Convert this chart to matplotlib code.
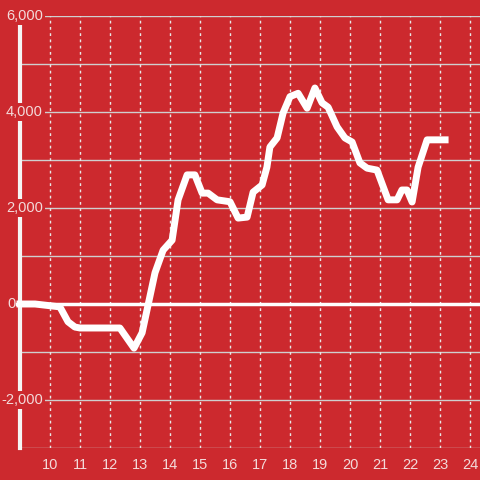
import matplotlib
matplotlib.use("Agg")
import matplotlib.pyplot as plt

# hour of day vs value
hours = [9.0, 9.5, 10.33, 10.6, 10.83, 11.0, 12.33, 12.8, 13.07, 13.5, 13.77,
         14.07, 14.27, 14.57, 14.83, 15.07, 15.27, 15.57, 16.0, 16.27, 16.57,
         16.77, 17.07, 17.23, 17.33, 17.57, 17.77, 18.0, 18.27, 18.57, 18.83,
         19.07, 19.27, 19.57, 19.83, 20.07, 20.33, 20.57, 20.9, 21.27, 21.57,
         21.73, 21.9, 22.07, 22.27, 22.57, 23.17]
values = [0, 0, -60, -370, -480, -500, -500, -920, -600, 650, 1120,
          1330, 2170, 2690, 2690, 2310, 2310, 2170, 2130, 1790, 1810,
          2330, 2480, 2850, 3270, 3460, 3980, 4320, 4390, 4080, 4500,
          4190, 4100, 3690, 3460, 3375, 2940, 2830, 2790, 2170, 2170,
          2375, 2375, 2125, 2850, 3420, 3420]

x_ticks = list(range(10, 25))
y_ticks = [-2000, 2000, 4000, 6000]

bg = "#cc292e"
txt = "#f3dada"
plt.rcParams['font.family'] = ['Liberation Sans', 'DejaVu Sans']

fig = plt.figure(figsize=(4.8, 4.8), dpi=100, facecolor=bg)
ax = fig.add_axes([20 / 480, 32 / 480, 460 / 480, 432 / 480], facecolor=bg)
ax.set_xlim(9.0, 9.0 + 460 / 30)
ax.set_ylim(-3000, 6000)

for s in ax.spines.values():
    s.set_visible(False)

# grid
for y in range(-3000, 6001, 1000):
    ax.axhline(y, color="#cfcfcf", lw=1, zorder=1)
for x in x_ticks:
    ax.axvline(x, color="#e8e8e8", lw=1, ls=(0, (2, 2.5)), zorder=1)
ax.axhline(0, xmin=-3 / 460, color="white", lw=2.5, zorder=2, clip_on=False)
ax.axvline(9.0, color="#f5f5f5", lw=3, zorder=2, clip_on=False)

ax.plot(hours, values, color="white", lw=5, zorder=4, clip_on=False)

ax.set_xticks(x_ticks)
ax.set_xticklabels([str(x) for x in x_ticks], color=txt, fontsize=10.5)
ax.tick_params(axis="x", length=0, pad=7)
ax.set_yticks([])

for y in y_ticks:
    ax.text(0.05, y, f"{y:,}", transform=ax.get_yaxis_transform(),
            ha="right", va="center", color=txt, fontsize=10.5, zorder=5,
            clip_on=False,
            bbox=dict(facecolor=bg, edgecolor="none", pad=1.5))
ax.text(-4 / 460, 0, "0", transform=ax.get_yaxis_transform(),
        ha="right", va="center", color=txt, fontsize=10.5, zorder=5,
        clip_on=False)

fig.savefig("out.png", dpi=100, facecolor=bg)
